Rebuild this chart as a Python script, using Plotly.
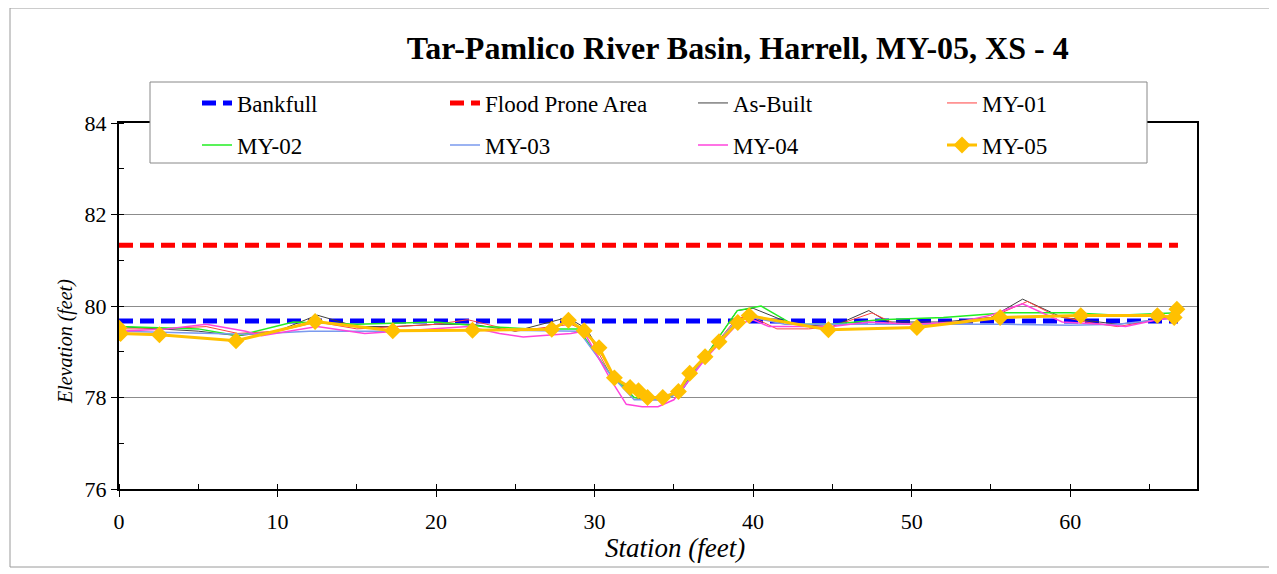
import plotly.graph_objects as go

# ---------------- data ----------------
title_text = "Tar-Pamlico River Basin, Harrell, MY-05, XS - 4"
x_title = "Station (feet)"
y_title = "Elevation (feet)"

bankfull_x = [0, 66.8]
bankfull_y = [79.67, 79.67]
flood_x = [0, 66.8]
flood_y = [81.33, 81.33]

asbuilt_x = [0, 2.5, 5.0, 7.5, 10.0, 12.5, 15.0, 17.3, 20.0, 22.3, 25.0, 28.3, 29.5, 31.0, 32.5, 33.5, 34.5, 35.5, 37.0, 39.0, 40.0, 42.5, 45.0, 47.3, 48.5, 52.0, 55.0, 57.0, 59.5, 63.0, 65.5, 66.8]
asbuilt_y = [79.55, 79.5, 79.45, 79.35, 79.45, 79.8, 79.55, 79.55, 79.6, 79.6, 79.45, 79.75, 79.5, 78.6, 78.0, 77.95, 77.95, 78.15, 78.9, 79.9, 79.95, 79.6, 79.55, 79.9, 79.65, 79.65, 79.75, 80.15, 79.75, 79.6, 79.7, 79.85]

my01_x = [0, 2.5, 5.5, 7.5, 10.0, 12.5, 15.0, 17.3, 20.0, 22.0, 25.0, 28.5, 29.5, 31.0, 32.5, 34.0, 35.3, 37.0, 39.0, 40.0, 41.5, 43.5, 45.0, 47.5, 49.0, 52.0, 55.0, 57.3, 59.0, 61.0, 63.0, 65.5, 66.8]
my01_y = [79.5, 79.5, 79.55, 79.4, 79.45, 79.65, 79.5, 79.55, 79.6, 79.7, 79.45, 79.6, 79.45, 78.5, 78.0, 77.95, 78.1, 78.9, 79.75, 79.75, 79.5, 79.5, 79.55, 79.85, 79.6, 79.6, 79.75, 80.1, 79.8, 79.65, 79.55, 79.7, 79.8]

my02_x = [0, 5.0, 7.5, 11.0, 15.0, 20.0, 23.0, 26.0, 29.0, 31.0, 32.5, 34.5, 35.5, 37.0, 39.0, 40.5, 42.5, 45.0, 48.0, 52.0, 56.0, 60.0, 63.0, 66.8]
my02_y = [79.55, 79.5, 79.35, 79.65, 79.6, 79.65, 79.55, 79.5, 79.5, 78.5, 78.0, 77.98, 78.2, 78.9, 79.9, 80.0, 79.6, 79.6, 79.7, 79.75, 79.85, 79.85, 79.8, 79.85]

my03_x = [0, 5.0, 8.0, 12.0, 17.0, 22.0, 29.0, 31.0, 32.5, 34.5, 35.5, 37.0, 39.0, 40.0, 42.0, 45.0, 48.0, 52.0, 56.0, 60.0, 63.0, 66.8]
my03_y = [79.45, 79.4, 79.38, 79.45, 79.45, 79.48, 79.45, 78.5, 77.95, 77.95, 78.15, 78.9, 79.7, 79.75, 79.6, 79.6, 79.6, 79.6, 79.6, 79.58, 79.6, 79.75]

my04_x = [0, 3.0, 5.5, 8.0, 9.0, 12.5, 15.5, 20.0, 22.0, 24.0, 25.5, 28.5, 29.3, 31.0, 32.0, 33.0, 34.0, 35.0, 36.0, 37.0, 39.0, 40.0, 41.0, 43.5, 45.0, 47.3, 50.0, 53.0, 55.0, 57.0, 59.5, 62.0, 63.5, 65.5, 66.8]
my04_y = [79.45, 79.5, 79.6, 79.45, 79.35, 79.55, 79.4, 79.5, 79.55, 79.4, 79.32, 79.4, 79.45, 78.4, 77.85, 77.8, 77.8, 77.95, 78.4, 78.85, 79.6, 79.7, 79.55, 79.55, 79.55, 79.65, 79.6, 79.65, 79.8, 80.05, 79.65, 79.6, 79.55, 79.7, 79.75]

my05_x = [0.0, 0.1, 2.55, 7.38, 12.37, 17.27, 22.3, 27.3, 28.35, 29.34, 30.28, 31.25, 32.24, 32.77, 33.34, 34.3, 35.29, 36.0, 36.97, 37.85, 39.03, 39.75, 44.75, 50.33, 55.58, 60.67, 65.5, 66.56, 66.73]
my05_y = [79.52, 79.4, 79.37, 79.24, 79.66, 79.46, 79.47, 79.49, 79.69, 79.46, 79.09, 78.43, 78.22, 78.15, 78.0, 78.0, 78.13, 78.53, 78.89, 79.22, 79.64, 79.79, 79.48, 79.53, 79.75, 79.79, 79.79, 79.75, 79.93]

# ---------------- figure ----------------
SERIF = "Liberation Serif, Times New Roman, serif"
OFF = 8  # page body margin in the screenshot
W, H = 1277, 574
L, R, T, B = 119, 1197, 123, 489   # plot area in screenshot pixels
pw, ph = R - L, B - T


def px(xp):
    return (xp - L) / pw


def py(yp):
    return (B - yp) / ph


fig = go.Figure()

series = [
    ("Bankfull", bankfull_x, bankfull_y, dict(color="#0000FF", width=5, dash="14px,7px"), None),
    ("Flood Prone Area", flood_x, flood_y, dict(color="#FF0000", width=5, dash="14px,7px"), None),
    ("As-Built", asbuilt_x, asbuilt_y, dict(color="#404040", width=1), None),
    ("MY-01", my01_x, my01_y, dict(color="#FF4040", width=1), None),
    ("MY-02", my02_x, my02_y, dict(color="#22EE22", width=1.5), None),
    ("MY-03", my03_x, my03_y, dict(color="#7A9AEE", width=1.5), None),
    ("MY-04", my04_x, my04_y, dict(color="#FF44DD", width=1.5), None),
    ("MY-05", my05_x, my05_y, dict(color="#FFC000", width=3),
     dict(symbol="diamond", size=13, color="#FFC000")),
]

col_text_x = [237, 485, 733, 982]
row_y = [103, 145]

legend_layouts = {}
for i, (name, xs, ys, line, marker) in enumerate(series):
    key = "legend" if i == 0 else f"legend{i + 1}"
    fig.add_trace(go.Scatter(x=xs, y=ys, name=name,
                             mode="lines+markers" if marker else "lines",
                             line=line, marker=marker, legend=key))
    legend_layouts[key] = dict(
        x=px(col_text_x[i % 4] - 40), y=py(row_y[i // 4]),
        xanchor="left", yanchor="middle", orientation="h",
        bgcolor="rgba(0,0,0,0)", borderwidth=0,
        font=dict(family=SERIF, size=23, color="#000"))

fig.update_layout(
    width=W, height=H,
    margin=dict(l=L - OFF, r=W - (R - OFF), t=T - OFF, b=H - (B - OFF), pad=0, autoexpand=False),
    paper_bgcolor="white", plot_bgcolor="white",
    showlegend=True,
    title=dict(text="<b>" + title_text + "</b>", x=px(735), xanchor="center",
               y=1 - (48 - OFF) / H, yanchor="middle",
               font=dict(family=SERIF, size=32, color="#000")),
    xaxis=dict(range=[0, 68], dtick=10, tick0=0, showgrid=False, zeroline=False,
               showline=True, linecolor="#000", linewidth=2, mirror=True,
               ticks="outside", ticklen=6, tickcolor="#000", ticklabelstandoff=6,
               minor=dict(dtick=5, ticks="inside", ticklen=5, tickcolor="#000", showgrid=False),
               tickfont=dict(family=SERIF, size=22, color="#000"),
               title=dict(text="")),
    yaxis=dict(range=[76, 84], dtick=2, tick0=76, showgrid=True, gridcolor="#8c8c8c", gridwidth=1,
               zeroline=False, showline=True, linecolor="#000", linewidth=2, mirror=True,
               ticks="outside", ticklen=6, tickcolor="#000",
               minor=dict(dtick=1, ticks="inside", ticklen=5, tickcolor="#000", showgrid=False),
               tickfont=dict(family=SERIF, size=22, color="#000"),
               title=dict(text="")),
    annotations=[
        dict(text="<i>" + y_title + "</i>", textangle=-90, xref="paper", yref="paper",
             x=px(65), y=py(342), xanchor="center", yanchor="middle", showarrow=False,
             font=dict(family=SERIF, size=20, color="#000")),
        dict(text="<i>" + x_title + "</i>", xref="paper", yref="paper",
             x=px(675), y=py(548), xanchor="center", yanchor="middle", showarrow=False,
             font=dict(family=SERIF, size=27, color="#000")),
    ],
    shapes=[
        dict(type="rect", xref="paper", yref="paper", x0=px(10), x1=px(1270), y0=py(567), y1=py(8),
             line=dict(color="#9a9a9a", width=1), fillcolor="rgba(0,0,0,0)", layer="below"),
        dict(type="rect", xref="paper", yref="paper", x0=px(150), x1=px(1147), y0=py(163), y1=py(82),
             line=dict(color="#888", width=1), fillcolor="white", layer="above"),
    ],
    **legend_layouts,
)

fig.write_html("out.html")
